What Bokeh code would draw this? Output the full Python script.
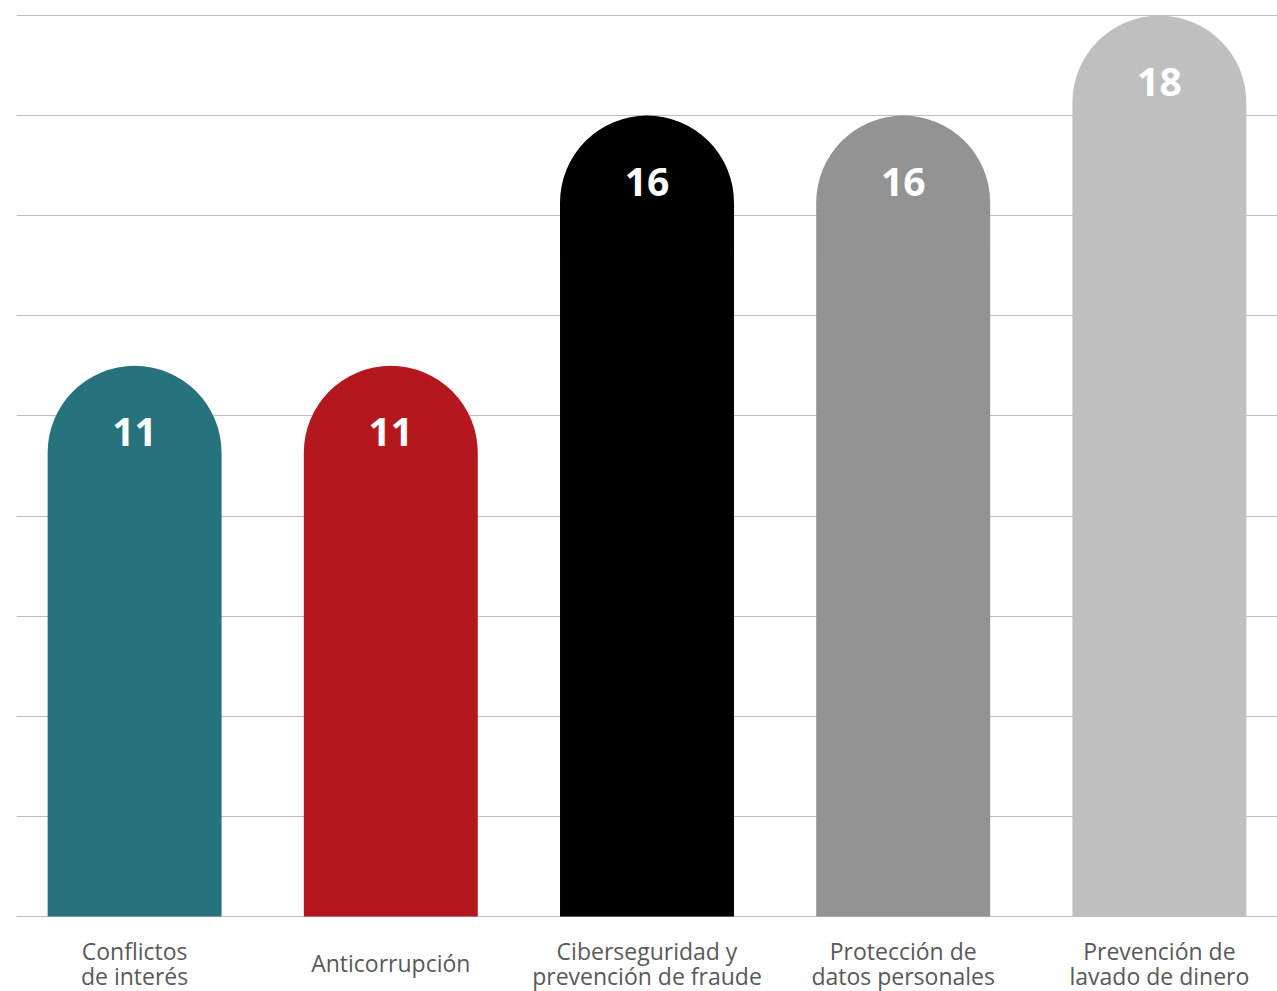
from bokeh.plotting import figure
from bokeh.models import FactorRange, Range1d, FixedTicker, ColumnDataSource
from bokeh.core.properties import value
from bokeh.embed import file_html
from bokeh.resources import INLINE

categories = [
    "Conflictos\nde interés",
    "Anticorrupción",
    "Ciberseguridad y\nprevención de fraude",
    "Protección de\ndatos personales",
    "Prevención de\nlavado de dinero",
]
values = [11, 11, 16, 16, 18]
colors = ["#26737D", "#B5171E", "#000000", "#939393", "#BFBFBF"]
grid_ticks = [0, 2, 4, 6, 8, 10, 12, 14, 16, 18]

src = ColumnDataSource(dict(
    cat=categories,
    val=values,
    color=colors,
    txt=[str(v) for v in values],
))

p = figure(
    x_range=FactorRange(factors=categories, range_padding=-0.0156),
    y_range=Range1d(-1.5, 18.14),
    width=1277, height=991,
    output_backend="svg", toolbar_location=None,
    min_border_left=16, min_border_right=0, min_border_top=8, min_border_bottom=0,
)
p.xaxis.visible = False
p.yaxis.visible = False
p.xgrid.visible = False
p.ygrid.ticker = FixedTicker(ticks=grid_ticks)
p.ygrid.grid_line_color = "#BDBDBD"
p.ygrid.grid_line_width = 1.2
p.outline_line_color = None
p.background_fill_color = "white"
p.border_fill_color = "white"

p.vbar(x="cat", top="val", bottom=0, width=0.679, source=src,
       fill_color="color", line_color=None, border_radius=(87, 87, 0, 0))

p.text(x="cat", y="val", text="txt", source=src, y_offset=66,
       text_align="center", text_baseline="middle", text_color="white",
       text_font=value("Open Sans"), text_font_style="bold", text_font_size="39px")

p.text(x="cat", y=0, text="cat", source=src, y_offset=47,
       text_align="center", text_baseline="middle", text_color="#595959",
       text_font=value("Open Sans"), text_font_size="23px", text_line_height=0.78)

open("out.html", "w").write(file_html(p, INLINE))
